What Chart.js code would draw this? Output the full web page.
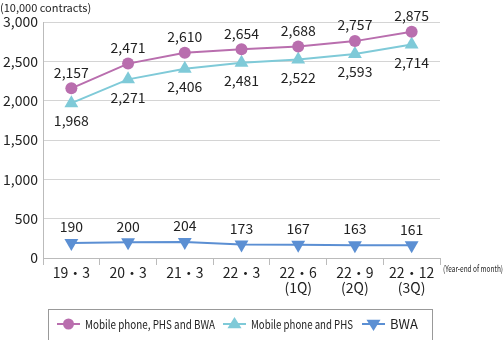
<!DOCTYPE html>
<html lang="en">
<head>
<meta charset="UTF-8">
<title>Contracts</title>
<script src="https://cdn.jsdelivr.net/npm/chart.js"></script>
<style>
  html, body { margin: 0; padding: 0; background: #fff; }
  .wrap { position: relative; width: 504px; height: 340px; }
</style>
</head>
<body>
<div class="wrap"><canvas id="chart" width="504" height="340"></canvas></div>
<script>
// chart data
const categories = [['19・3'], ['20・3'], ['21・3'], ['22・3'], ['22・6', '(1Q)'], ['22・9', '(2Q)'], ['22・12', '(3Q)']];
const seriesNames = ['Mobile phone, PHS and BWA', 'Mobile phone and PHS', 'BWA'];
const totalValues = [2157, 2471, 2610, 2654, 2688, 2757, 2875];
const mobileValues = [1968, 2271, 2406, 2481, 2522, 2593, 2714];
const bwaValues = [190, 200, 204, 173, 167, 163, 161];
const yTicks = [0, 500, 1000, 1500, 2000, 2500, 3000];
const unitLabel = '(10,000 contracts)';
const xUnitLabel = '(Year-end of month)';

const FONT = '"Noto Sans CJK JP", "Noto Sans", sans-serif';
const colors = ['#b96eae', '#7fcad8', '#5b8fd3'];
const labelPos = ['above', 'below', 'above'];

// value labels next to each point
const valueLabels = {
  id: 'valueLabels',
  afterDatasetsDraw(chart) {
    const ctx = chart.ctx;
    ctx.save();
    ctx.font = '14px ' + FONT;
    ctx.fillStyle = '#222';
    ctx.textAlign = 'center';
    ctx.textBaseline = 'middle';
    chart.data.datasets.forEach((ds, i) => {
      chart.getDatasetMeta(i).data.forEach((pt, j) => {
        const dy = labelPos[i] === 'above' ? -16 : 18;
        ctx.fillText(ds.data[j].toLocaleString('en-US'), pt.x, pt.y + dy);
      });
    });
    ctx.restore();
  }
};

// unit texts and boxed legend
const extras = {
  id: 'extras',
  afterDraw(chart) {
    const ctx = chart.ctx;
    const a = chart.chartArea;
    ctx.save();
    ctx.fillStyle = '#222';
    ctx.font = '11px ' + FONT;
    ctx.textBaseline = 'middle';
    ctx.textAlign = 'left';
    ctx.fillText(unitLabel, 0, 8, 112);
    ctx.font = '9px ' + FONT;
    ctx.fillText(xUnitLabel, a.right + 3, a.bottom + 11, 60);

    // legend box
    ctx.strokeStyle = '#999';
    ctx.lineWidth = 1;
    ctx.strokeRect(48.5, 309.5, 384, 32);
    const cy = 324;
    const starts = [57, 223, 362];
    const textWidths = [130, 102, 32];
    chart.data.datasets.forEach((ds, i) => {
      const x0 = starts[i];
      const mx = x0 + 11.5;
      ctx.strokeStyle = colors[i];
      ctx.lineWidth = 2;
      ctx.beginPath();
      ctx.moveTo(x0, cy);
      ctx.lineTo(x0 + 23, cy);
      ctx.stroke();
      ctx.fillStyle = colors[i];
      ctx.beginPath();
      if (ds.pointStyle === 'circle') {
        ctx.arc(mx, cy, 5.5, 0, Math.PI * 2);
      } else {
        const s = 7;
        const dir = (ds.pointRotation || 0) === 0 ? 1 : -1;
        ctx.moveTo(mx, cy - s * dir);
        ctx.lineTo(mx + s, cy + s * 0.6 * dir);
        ctx.lineTo(mx - s, cy + s * 0.6 * dir);
      }
      ctx.closePath();
      ctx.fill();
      ctx.fillStyle = '#222';
      ctx.font = (i === 2 ? '13px ' : '12px ') + FONT;
      ctx.fillText(seriesNames[i], x0 + 28, cy, textWidths[i]);
    });
    ctx.restore();
  }
};

const makeSet = (name, values, i, style, rot, radius) => ({
  label: name,
  data: values,
  borderColor: colors[i],
  backgroundColor: colors[i],
  borderWidth: 2,
  pointStyle: style,
  pointRotation: rot,
  pointRadius: radius,
  pointHoverRadius: radius,
  pointBorderWidth: 0,
  tension: 0
});

new Chart(document.getElementById('chart'), {
  type: 'line',
  data: {
    labels: categories,
    datasets: [
      makeSet(seriesNames[0], totalValues, 0, 'circle', 0, 6),
      makeSet(seriesNames[1], mobileValues, 1, 'triangle', 0, 8),
      makeSet(seriesNames[2], bwaValues, 2, 'triangle', 180, 8)
    ]
  },
  options: {
    responsive: false,
    animation: false,
    layout: { padding: { top: 22, right: 64, left: 0, bottom: 0 } },
    plugins: { legend: { display: false }, tooltip: { enabled: false } },
    scales: {
      x: {
        offset: true,
        grid: { offset: true, drawOnChartArea: false, color: '#bbb', tickLength: 7 },
        border: { color: '#bbb' },
        ticks: { color: '#222', font: { family: FONT, size: 14, lineHeight: 1.1 }, padding: 0, maxRotation: 0, autoSkip: false },
        afterFit(scale) { scale.height = 82; }
      },
      y: {
        min: 0, max: 3000,
        afterBuildTicks(scale) { scale.ticks = yTicks.map(v => ({ value: v })); },
        grid: { color: '#d4d4d4', drawTicks: false },
        border: { color: '#bbb' },
        ticks: {
          color: '#222', font: { family: FONT, size: 14 }, padding: 5,
          callback: v => v.toLocaleString('en-US')
        },
        afterFit(scale) { scale.width = 43; }
      }
    }
  },
  plugins: [valueLabels, extras]
});
</script>
</body>
</html>
